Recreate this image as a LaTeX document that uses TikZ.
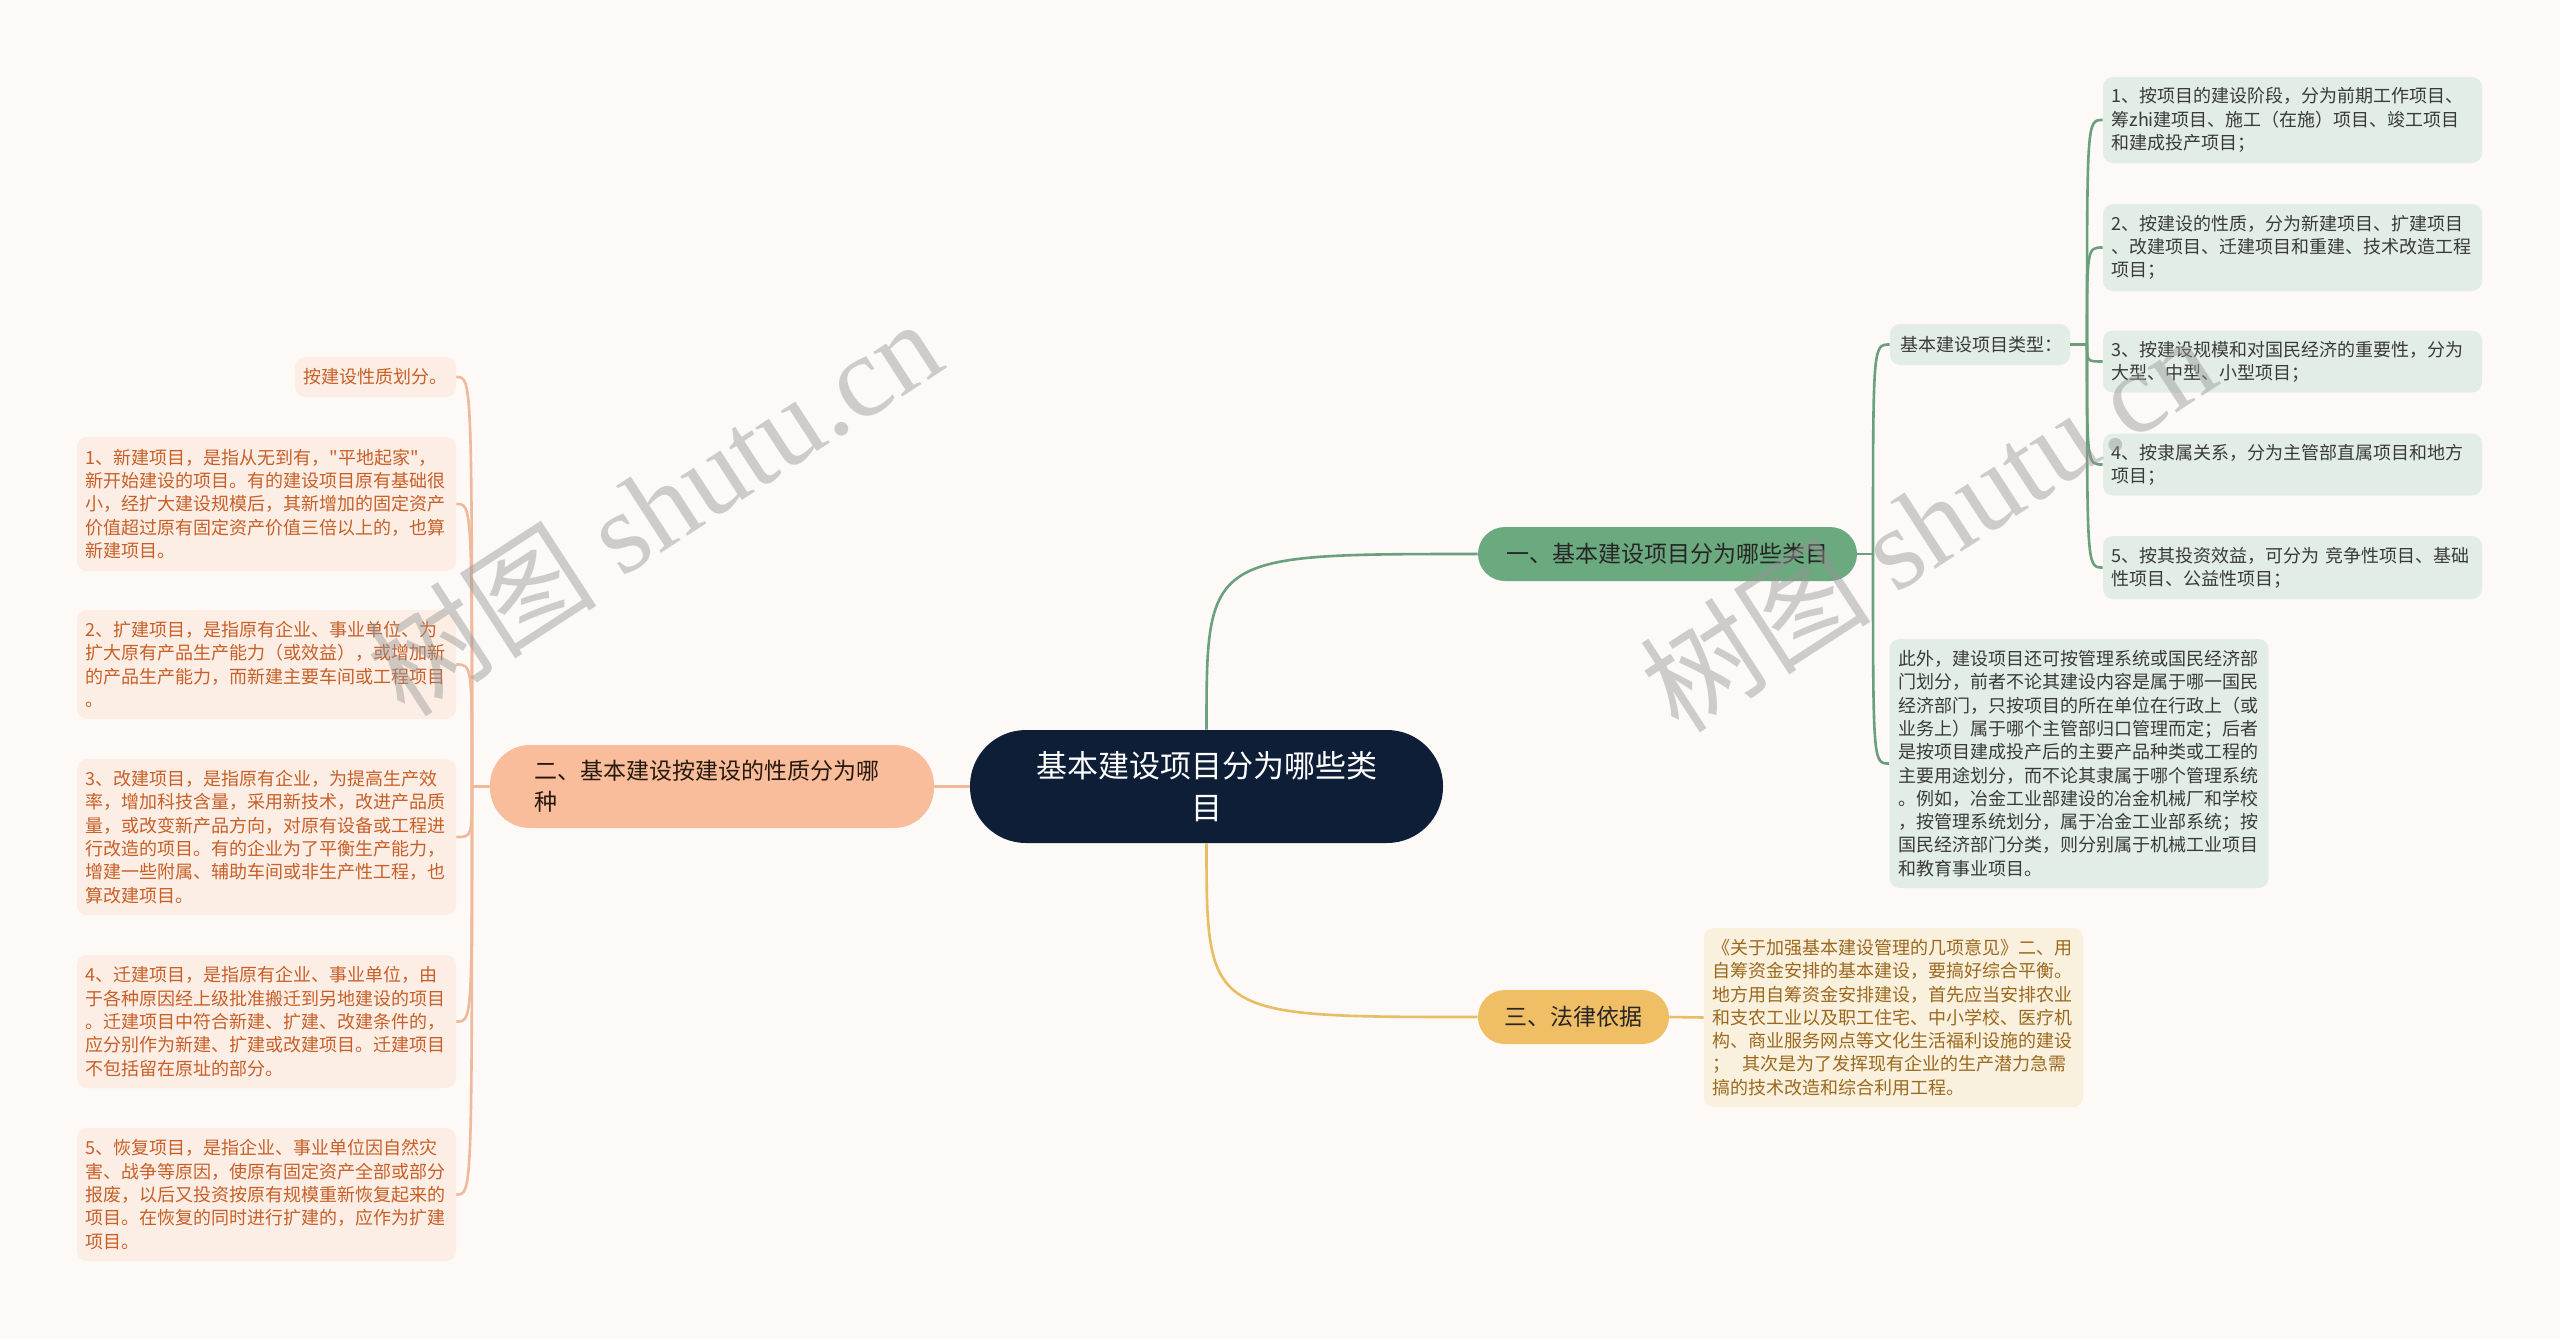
\documentclass[tikz,border=0pt]{standalone}
\usepackage{fontspec}
\setmainfont{Noto Sans CJK SC}[Ligatures=TeXOff]
\newfontfamily\wmserif{Liberation Serif}
\newfontfamily\wmcjk{Noto Sans CJK SC}
\usetikzlibrary{calc}
\definecolor{bgc}{RGB}{253,249,247}
\definecolor{navy}{RGB}{14,30,55}
\definecolor{gmain}{RGB}{107,169,127}
\definecolor{gbox}{RGB}{226,238,229}
\definecolor{gline}{RGB}{107,160,125}
\definecolor{gtext}{RGB}{58,58,58}
\definecolor{smain}{RGB}{249,189,155}
\definecolor{sline}{RGB}{240,185,155}
\definecolor{sbox}{RGB}{252,238,228}
\definecolor{stext}{RGB}{200,95,40}
\definecolor{ymain}{RGB}{240,190,100}
\definecolor{yline}{RGB}{232,190,100}
\definecolor{ybox}{RGB}{250,240,222}
\definecolor{ytext}{RGB}{155,105,30}
\definecolor{wmc}{RGB}{150,150,150}
\tikzset{
  centernode/.style={fill=navy, text=white, rounded corners=28pt, minimum width=236.5pt, minimum height=56.5pt, text width=200pt, align=center, font=\fontsize{15.5pt}{21pt}\selectfont, inner sep=0pt},
  mainnode/.style={rounded corners=13.5pt, minimum height=27pt, inner sep=0pt, align=center, text=black!85, font=\fontsize{11.5pt}{15.5pt}\selectfont},
  leafbox/.style={rounded corners=5pt, text width=181pt, inner xsep=4.25pt, inner ysep=0pt, align=left, font=\fontsize{9pt}{11.65pt}\selectfont},
  lbox/.style={leafbox, fill=sbox, text=stext},
  rbox/.style={leafbox, fill=gbox, text=gtext},
  ybx/.style={leafbox, fill=ybox, text=ytext},
  gconn/.style={draw=gline, line width=1.3pt},
  sconn/.style={draw=sline, line width=1.3pt},
  yconn/.style={draw=yline, line width=1.3pt},
  wmark/.style={rotate=33, text=wmc, opacity=0.45, font=\fontsize{58pt}{60pt}\selectfont}
}
\begin{document}
\begin{tikzpicture}[x=0.5pt,y=-0.5pt]
\useasboundingbox (0,0) rectangle (2560,1339);
\fill[bgc] (0,0) rectangle (2560,1339);

% central node
\node[centernode] (c) at (1206.5,786.5) {基本建设项目分为哪些类\\目};

% main nodes
\node[mainnode, fill=gmain, minimum width=189.5pt] (n1) at (1667.5,554) {一、基本建设项目分为哪些类目};
\node[mainnode, fill=smain, rounded corners=20pt, minimum width=222pt, minimum height=41.5pt, text width=178pt, inner xsep=22pt, align=left, text=black!80!brown, font=\fontsize{11.5pt}{15.5pt}\selectfont] (n2) at (712,786.5) {二、基本建设按建设的性质分为哪\\种};
\node[mainnode, fill=ymain, minimum width=95.5pt] (n3) at (1573.5,1017) {三、法律依据};

% right subtree
\node[rbox, text width=80pt, inner xsep=5pt, minimum height=20.5pt] (ty) at (1980,344.5) {基本建设项目类型：};
\node[rbox, minimum height=43pt] (r1) at (2292.5,120) {1、按项目的建设阶段，分为前期工作项目、\\筹zhi建项目、施工（在施）项目、竣工项目\\和建成投产项目；};
\node[rbox, minimum height=43.5pt] (r2) at (2292.5,247.5) {2、按建设的性质，分为新建项目、扩建项目\\、改建项目、迁建项目和重建、技术改造工程\\项目；};
\node[rbox, minimum height=31pt] (r3) at (2292.5,361.5) {3、按建设规模和对国民经济的重要性，分为\\大型、中型、小型项目；};
\node[rbox, minimum height=31pt] (r4) at (2292.5,464.5) {4、按隶属关系，分为主管部直属项目和地方\\项目；};
\node[rbox, minimum height=31.5pt] (r5) at (2292.5,567.5) {5、按其投资效益，可分为 竞争性项目、基础\\性项目、公益性项目；};
\node[rbox, minimum height=124.5pt] (ex) at (2079,763.5) {此外，建设项目还可按管理系统或国民经济部\\门划分，前者不论其建设内容是属于哪一国民\\经济部门，只按项目的所在单位在行政上（或\\业务上）属于哪个主管部归口管理而定；后者\\是按项目建成投产后的主要产品种类或工程的\\主要用途划分，而不论其隶属于哪个管理系统\\。例如，冶金工业部建设的冶金机械厂和学校\\，按管理系统划分，属于冶金工业部系统；按\\国民经济部门分类，则分别属于机械工业项目\\和教育事业项目。};

% left subtree
\node[lbox, text width=72pt, minimum height=20pt] (l0) at (375.5,377) {按建设性质划分。};
\node[lbox, minimum height=67pt] (l1) at (266.5,504) {1、新建项目，是指从无到有，"平地起家"，\\新开始建设的项目。有的建设项目原有基础很\\小，经扩大建设规模后，其新增加的固定资产\\价值超过原有固定资产价值三倍以上的，也算\\新建项目。};
\node[lbox, minimum height=54.5pt] (l2) at (266.5,664.5) {2、扩建项目，是指原有企业、事业单位、为\\扩大原有产品生产能力（或效益），或增加新\\的产品生产能力，而新建主要车间或工程项目\\。};
\node[lbox, minimum height=78pt] (l3) at (266.5,837) {3、改建项目，是指原有企业，为提高生产效\\率，增加科技含量，采用新技术，改进产品质\\量，或改变新产品方向，对原有设备或工程进\\行改造的项目。有的企业为了平衡生产能力，\\增建一些附属、辅助车间或非生产性工程，也\\算改建项目。};
\node[lbox, minimum height=66.5pt] (l4) at (266.5,1021.5) {4、迁建项目，是指原有企业、事业单位，由\\于各种原因经上级批准搬迁到另地建设的项目\\。迁建项目中符合新建、扩建、改建条件的，\\应分别作为新建、扩建或改建项目。迁建项目\\不包括留在原址的部分。};
\node[lbox, minimum height=66.5pt] (l5) at (266.5,1194.5) {5、恢复项目，是指企业、事业单位因自然灾\\害、战争等原因，使原有固定资产全部或部分\\报废，以后又投资按原有规模重新恢复起来的\\项目。在恢复的同时进行扩建的，应作为扩建\\项目。};

% legal basis
\node[ybx, minimum height=89.5pt] (lg) at (1893.5,1017.5) {《关于加强基本建设管理的几项意见》二、用\\自筹资金安排的基本建设，要搞好综合平衡。\\地方用自筹资金安排建设，首先应当安排农业\\和支农工业以及职工住宅、中小学校、医疗机\\构、商业服务网点等文化生活福利设施的建设\\；\ \ 其次是为了发挥现有企业的生产潜力急需\\搞的技术改造和综合利用工程。};

% connectors: centre to main
\draw[gconn] (c.north) .. controls (c.north |- n1.west) .. (n1.west);
\draw[yconn] (c.south) .. controls (c.south |- n3.west) .. (n3.west);
\draw[sconn] (c.west) -- (n2.east);
\draw[yconn] (n3.east) -- (lg.west);

% n1 subtree
\coordinate (gj) at (1873,554);
\draw[gconn] (n1.east) -- (gj);
\draw[gconn] (gj) .. controls (gj |- ty.west) .. (ty.west);
\draw[gconn] (gj) .. controls (gj |- ex.west) .. (ex.west);
\coordinate (tj) at (2087,344.5);
\draw[gconn] (ty.east) -- (tj);
\foreach \b in {r1,r2,r3,r4,r5}{
  \draw[gconn] (tj) .. controls (tj |- \b.west) .. (\b.west);
}

% n2 subtree
\coordinate (sj) at (472,786.5);
\draw[sconn] (n2.west) -- (sj);
\foreach \b in {l0,l1,l2,l3,l4,l5}{
  \draw[sconn] (sj) .. controls (sj |- \b.east) .. (\b.east);
}

% watermarks
\node[wmark] (wm1) at (653,506) {{\wmcjk 树图} {\wmserif shutu.cn}};
\node[wmark] (wm2) at (1927,522) {{\wmcjk 树图} {\wmserif shutu.cn}};
\end{tikzpicture}
\end{document}
